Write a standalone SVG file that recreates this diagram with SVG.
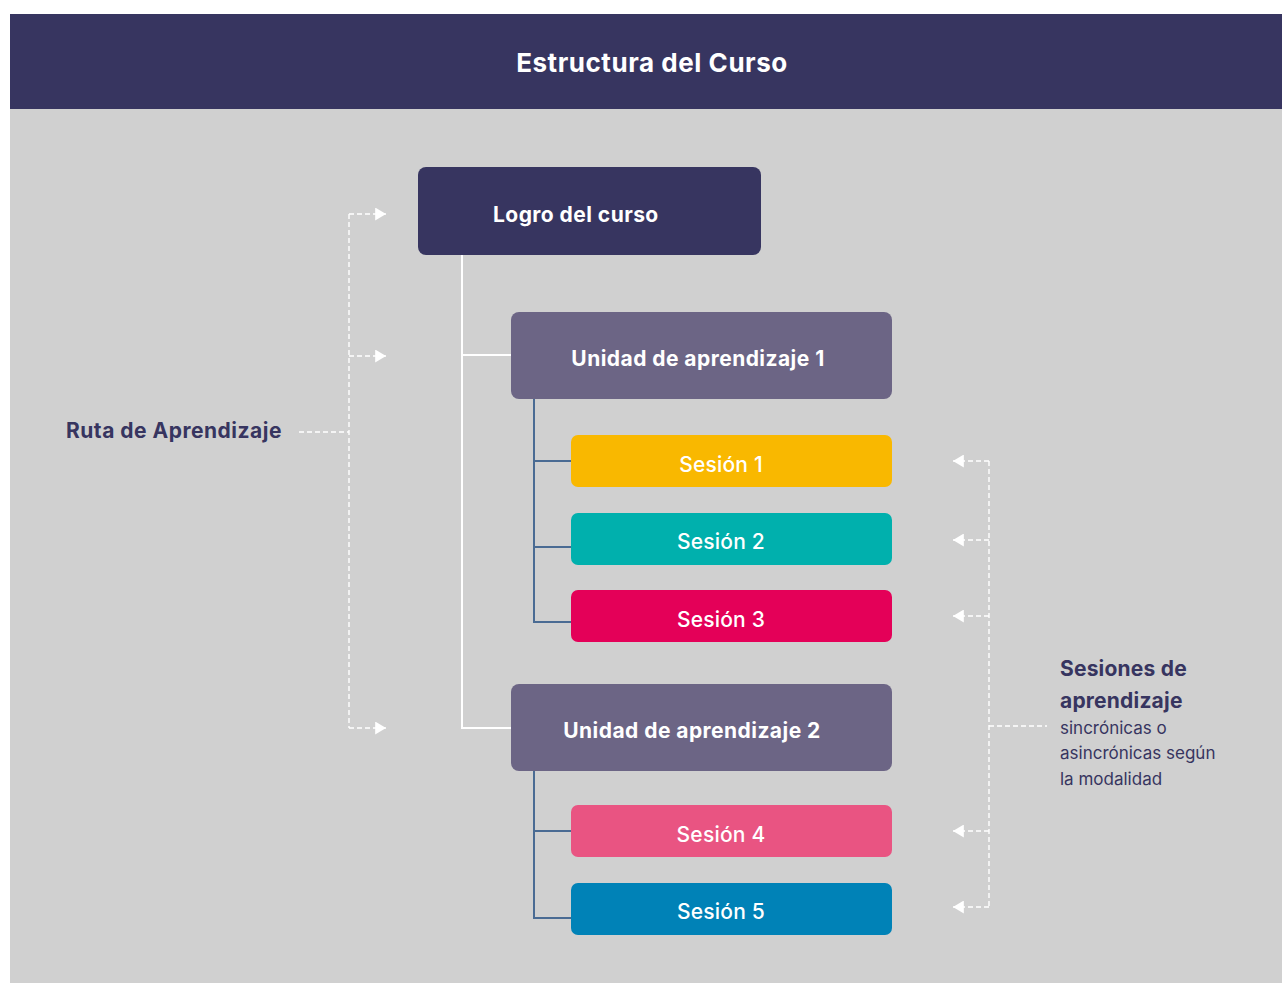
<svg xmlns="http://www.w3.org/2000/svg" width="1282" height="983" viewBox="0 0 1282 983">
<style>
.t{font-family:Inter,"Liberation Sans",sans-serif;fill:#fff;}
.b{font-weight:700;letter-spacing:0.45px;}
.s{font-weight:500;font-size:21px;text-anchor:middle;letter-spacing:0.2px;}
.dash{stroke:#fff;stroke-width:1.4;stroke-dasharray:5 3;fill:none;}
.tree{stroke:#fff;stroke-width:2;fill:none;}
.tree2{stroke:#4a6b93;stroke-width:2;fill:none;}
.lbl{font-family:Inter,"Liberation Sans",sans-serif;fill:#373560;}
.lb{font-weight:700;letter-spacing:0.5px;}
</style>
<defs>
<marker id="ar" viewBox="0 0 10 12" refX="10" refY="6" markerWidth="11" markerHeight="13" markerUnits="userSpaceOnUse" orient="auto">
<path d="M0,0 L10,6 L0,12 Z" fill="#fff"/>
</marker>
</defs>
<rect x="0" y="0" width="1282" height="983" fill="#fff"/>
<rect x="10" y="109" width="1272" height="874" fill="#d0d0d0"/>
<rect x="10" y="14" width="1272" height="95" fill="#373560"/>
<text class="t b" x="652" y="72" font-size="26" text-anchor="middle" style="letter-spacing:0.55px">Estructura del Curso</text>

<g id="connectors">
<path class="tree" d="M462,255 V728 H511 M462,355 H511"/>
<path class="tree2" d="M534,399 V622 H571 M534,461 H571 M534,547 H571"/>
<path class="tree2" d="M534,771 V918 H571 M534,831 H571"/>
<path class="dash" d="M349,214 V728"/>
<path class="dash" d="M349,214 H386" marker-end="url(#ar)"/>
<path class="dash" d="M349,356 H386" marker-end="url(#ar)"/>
<path class="dash" d="M349,728 H386" marker-end="url(#ar)"/>
<path class="dash" d="M299,432 H349"/>
<path class="dash" d="M989,461 V907"/>
<path class="dash" d="M989,461 H953" marker-end="url(#ar)"/>
<path class="dash" d="M989,540 H953" marker-end="url(#ar)"/>
<path class="dash" d="M989,616 H953" marker-end="url(#ar)"/>
<path class="dash" d="M989,831 H953" marker-end="url(#ar)"/>
<path class="dash" d="M989,907 H953" marker-end="url(#ar)"/>
<path class="dash" d="M989,726 H1047"/>
</g>

<g id="logro">
<rect x="418" y="167" width="343" height="88" rx="8" fill="#373560"/>
<text class="t b" x="493" y="222" font-size="21">Logro del curso</text>
</g>
<g id="unidad1">
<rect x="511" y="312" width="381" height="87" rx="8" fill="#6c6585"/>
<text class="t b" x="698" y="366" font-size="21" text-anchor="middle">Unidad de aprendizaje 1</text>
</g>
<g id="sesion1">
<rect x="571" y="435" width="321" height="52" rx="7" fill="#f9b800"/>
<text class="t s" x="721" y="472">Sesión 1</text>
</g>
<g id="sesion2">
<rect x="571" y="513" width="321" height="52" rx="7" fill="#00b0ad"/>
<text class="t s" x="721" y="549">Sesión 2</text>
</g>
<g id="sesion3">
<rect x="571" y="590" width="321" height="52" rx="7" fill="#e40058"/>
<text class="t s" x="721" y="627">Sesión 3</text>
</g>
<g id="unidad2">
<rect x="511" y="684" width="381" height="87" rx="8" fill="#6c6585"/>
<text class="t b" x="692" y="738" font-size="21" text-anchor="middle">Unidad de aprendizaje 2</text>
</g>
<g id="sesion4">
<rect x="571" y="805" width="321" height="52" rx="7" fill="#e95482"/>
<text class="t s" x="721" y="842">Sesión 4</text>
</g>
<g id="sesion5">
<rect x="571" y="883" width="321" height="52" rx="7" fill="#0082b7"/>
<text class="t s" x="721" y="919">Sesión 5</text>
</g>
<g id="ruta">
<text class="lbl lb" x="66" y="438" font-size="21">Ruta de Aprendizaje</text>
</g>
<g id="sesiones">
<text class="lbl" font-size="21" font-weight="700" style="letter-spacing:0.2px"><tspan x="1060" y="676">Sesiones de</tspan><tspan x="1060" y="708">aprendizaje</tspan></text>
<text class="lbl" font-size="17"><tspan x="1060" y="734">sincrónicas o</tspan><tspan x="1060" y="759">asincrónicas según</tspan><tspan x="1060" y="785">la modalidad</tspan></text>
</g>
</svg>
